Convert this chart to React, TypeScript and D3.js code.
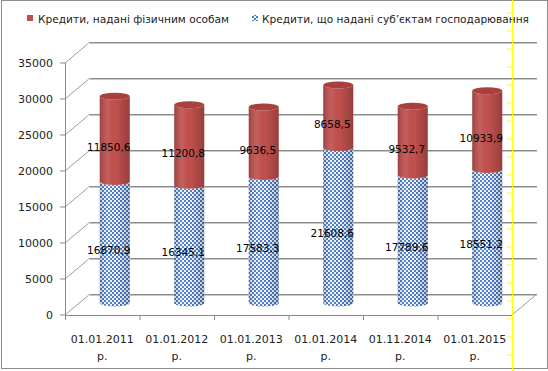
import * as d3 from 'd3'

// Dates on the x axis (two-line labels)
const CATEGORIES = ['01.01.2011', '01.01.2012', '01.01.2013', '01.01.2014', '01.11.2014', '01.01.2015']
const CAT_SUFFIX = 'р.'

// Loans to business entities (bottom, blue checker)
const BUSINESS = [16870.9, 16345.1, 17583.3, 21608.6, 17789.6, 18551.2]
// Loans to individuals (top, red)
const PERSONS = [11850.6, 11200.8, 9636.5, 8658.5, 9532.7, 10933.9]

const Y_TICKS = [0, 5000, 10000, 15000, 20000, 25000, 30000, 35000]

const LEGEND = ['Кредити, надані фізичним особам', 'Кредити, що надані суб’єктам господарювання']

const FONT = '"DejaVu Sans", Verdana, sans-serif'

const fmt = (v: number) => v.toFixed(1).replace('.', ',')

export default function App() {
  const W = 548
  const H = 371
  // front plane of the 3d box
  const left = 65
  const right = 512
  const DX = 25
  const DY = -21

  const x = d3.scaleBand<string>().domain(CATEGORIES).range([left, right]).paddingInner(0).paddingOuter(0)
  const y = d3.scaleLinear().domain([0, 35000]).range([315, 63])

  const rx = 15
  const ry = 3.5
  const cyl = (i: number) => (x(CATEGORIES[i]) ?? 0) + x.bandwidth() / 2 + DX / 2
  const cylY = (v: number) => y(v) - 12

  // body path between two values, front arcs only
  const body = (cx: number, v0: number, v1: number) => {
    const yb = cylY(v0)
    const yt = cylY(v1)
    return `M${cx - rx},${yt} L${cx - rx},${yb} A${rx},${ry} 0 0 0 ${cx + rx},${yb} L${cx + rx},${yt} A${rx},${ry} 0 0 1 ${cx - rx},${yt} Z`
  }

  const ticks = d3.range(CATEGORIES.length + 1).map(i => left + i * x.bandwidth())
  const rulerTicks = d3.range(0, 21).map(i => 12.5 + i * 18)

  return (
    <svg width={W} height={H} style={{ position: 'absolute', left: 0, top: 0, background: '#fff' }} fontFamily={FONT}>
      <defs>
        <pattern id="checker" width="4" height="4" patternUnits="userSpaceOnUse">
          <rect width="4" height="4" fill="#f6f8fc" />
          <rect x="0" y="0" width="2" height="2" fill="#4a7ecb" />
          <rect x="2" y="2" width="2" height="2" fill="#4a7ecb" />
        </pattern>
        <linearGradient id="shade" x1="0" x2="1" y1="0" y2="0">
          <stop offset="0" stopColor="#000" stopOpacity="0.2" />
          <stop offset="0.3" stopColor="#fff" stopOpacity="0.08" />
          <stop offset="0.55" stopColor="#000" stopOpacity="0" />
          <stop offset="1" stopColor="#000" stopOpacity="0.22" />
        </linearGradient>
      </defs>

      {/* outer frame */}
      <rect x={1.5} y={0.5} width={546} height={368} fill="none" stroke="#8c8c8c" />

      {/* legend */}
      <rect x={27} y={15} width={6} height={6} fill="#c0504d" />
      <text x={38} y={22.5} fontSize={10.6} fill="#222">{LEGEND[0]}</text>
      <rect x={252} y={15} width={6} height={6} fill="url(#checker)" />
      <text x={262} y={22.5} fontSize={10.6} fill="#222">{LEGEND[1]}</text>

      {/* walls: gridlines */}
      {Y_TICKS.map(t => (
        <g key={t}>
          <line x1={left} y1={y(t)} x2={left + DX} y2={y(t) + DY} stroke="#9a9a9a" />
          <line x1={left + DX} y1={y(t) + DY + 0.5} x2={right + DX} y2={y(t) + DY + 0.5} stroke="#8a8a8a" />
          <line x1={left + DX} y1={y(t) + DY + 1.5} x2={right + DX} y2={y(t) + DY + 1.5} stroke="#c8c8c8" />
          <line x1={left - 5} y1={y(t)} x2={left} y2={y(t)} stroke="#8a8a8a" />
          <text x={53} y={y(t) + 4} fontSize={11} textAnchor="end" fill="#222">{t}</text>
        </g>
      ))}
      <line x1={left + 0.5} y1={y(35000)} x2={left + 0.5} y2={y(0)} stroke="#8a8a8a" />

      {/* floor */}
      <line x1={left} y1={y(0) + 0.5} x2={right} y2={y(0) + 0.5} stroke="#8a8a8a" />
      <line x1={right} y1={y(0)} x2={right + DX} y2={y(0) + DY} stroke="#9a9a9a" />
      {ticks.map((t, i) => (
        <line key={i} x1={t + 0.5} y1={y(0)} x2={t + 0.5} y2={y(0) + 5} stroke="#8a8a8a" />
      ))}

      {/* cylinders */}
      {CATEGORIES.map((c, i) => {
        const cx = cyl(i)
        const total = BUSINESS[i] + PERSONS[i]
        return (
          <g key={c}>
            <path d={body(cx, 0, BUSINESS[i])} fill="url(#checker)" />
            <path d={body(cx, 0, BUSINESS[i])} fill="url(#shade)" />
            <path d={body(cx, BUSINESS[i], total)} fill="#c0504d" />
            <path d={body(cx, BUSINESS[i], total)} fill="url(#shade)" />
            <ellipse cx={cx} cy={cylY(total)} rx={rx} ry={ry} fill="#a8413e" />
          </g>
        )
      })}

      {/* data labels */}
      {CATEGORIES.map((c, i) => {
        const cx = cyl(i) - 6
        const total = BUSINESS[i] + PERSONS[i]
        const midB = (cylY(0) + cylY(BUSINESS[i])) / 2
        const midP = (cylY(BUSINESS[i]) + cylY(total)) / 2
        return (
          <g key={c} fontSize={10.5} textAnchor="middle" fill="#000">
            <text x={cx} y={midP + 12}>{fmt(PERSONS[i])}</text>
            <text x={cx} y={midB + 12}>{fmt(BUSINESS[i])}</text>
          </g>
        )
      })}

      {/* category labels */}
      {CATEGORIES.map(c => {
        const cx = (x(c) ?? 0) + x.bandwidth() / 2
        return (
          <g key={c} fontSize={11} textAnchor="middle" fill="#222">
            <text x={cx} y={343}>{c}</text>
            <text x={cx} y={360}>{CAT_SUFFIX}</text>
          </g>
        )
      })}

      {/* yellow ruler line */}
      <line x1={512.5} y1={0} x2={512.5} y2={H} stroke="#ffff00" />
      {rulerTicks.map(t => (
        <line key={t} x1={507} y1={t + 0.5} x2={512} y2={t + 0.5} stroke="#ffff00" />
      ))}
    </svg>
  )
}
